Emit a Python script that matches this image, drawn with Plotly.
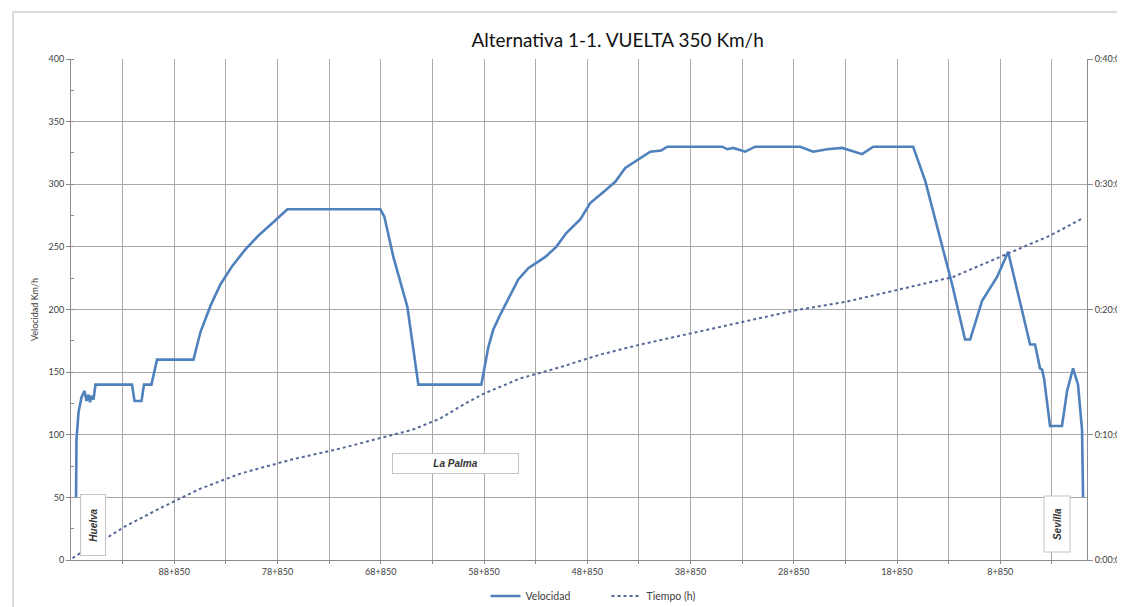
import plotly.graph_objects as go

# Punto kilométrico (km) y velocidad (km/h) del tren, Huelva -> Sevilla
pk_velocidad = [98.36, 98.32, 98.12, 97.83, 97.54, 97.35, 97.15, 97.01, 96.86, 96.67,
                96.48, 92.94, 92.70, 92.02, 91.78, 91.06, 90.52, 86.99, 86.31, 85.34,
                84.38, 83.21, 81.96, 80.70, 79.34, 77.89, 68.89, 68.50, 67.63, 66.27,
                65.21, 59.11, 58.43, 57.95, 57.27, 56.30, 55.53, 54.56, 52.91, 51.85,
                50.88, 49.53, 48.56, 47.11, 46.14, 45.17, 43.72, 42.75, 41.69, 41.10,
                35.78, 35.30, 34.71, 33.55, 32.59, 28.23, 26.97, 25.62, 24.16, 22.23,
                21.16, 17.29, 16.13, 14.87, 13.51, 12.26, 11.77, 10.61, 9.16, 8.09,
                5.96, 5.48, 5.00, 4.80, 4.61, 4.03, 2.87, 2.38, 1.80, 1.32,
                0.93, 0.83]
velocidad = [50, 96, 118, 130, 135, 127, 132, 126, 131, 128,
             140, 140, 127, 127, 140, 140, 160, 160, 182, 203,
             220, 235, 248, 259, 269, 280, 280, 274, 242, 202,
             140, 140, 170, 184, 196, 212, 224, 233, 242, 250,
             261, 272, 285, 295, 302, 313, 321, 326, 327, 330,
             330, 328, 329, 326, 330, 330, 326, 328, 329, 324,
             330, 330, 303, 263, 220, 176, 176, 207, 226, 246,
             172, 172, 153, 152, 145, 107, 107, 135, 153, 140,
             104, 50]

# Tiempo acumulado (minutos)
pk_tiempo = [98.70, 96.96, 95.32, 93.57, 90.18, 86.31, 82.44, 77.60, 72.76, 68.89,
             65.79, 63.08, 60.66, 58.82, 55.33, 51.46, 47.59, 43.72, 38.88, 33.84,
             28.91, 23.87, 18.55, 13.42, 8.87, 4.03, 0.83]
tiempo_min = [0.15, 1.1, 1.8, 2.7, 4.15, 5.7, 6.9, 8.0, 8.9, 9.7,
              10.4, 11.3, 12.5, 13.3, 14.5, 15.4, 16.4, 17.2, 18.1, 19.0,
              19.9, 20.6, 21.6, 22.6, 24.2, 25.9, 27.3]

# Ejes
grid_pk = [93.85, 88.85, 83.85, 78.85, 73.85, 68.85, 63.85, 58.85, 53.85, 48.85,
           43.85, 38.85, 33.85, 28.85, 23.85, 18.85, 13.85, 8.85, 3.85]
etiquetas_pk = ["", "88+850", "", "78+850", "", "68+850", "", "58+850", "", "48+850",
                "", "38+850", "", "28+850", "", "18+850", "", "8+850", ""]
ticks_tiempo = [0, 10, 20, 30, 40]
etiquetas_tiempo = ["0:00:00", "0:10:00", "0:20:00", "0:30:00", "0:40:00"]

FUENTE = "Lato, 'Open Sans', Arial, sans-serif"
GRIS_TXT = "#404040"
GRIS_GRID = "#a9a9a9"

fig = go.Figure()
fig.add_trace(go.Scatter(
    x=pk_velocidad, y=velocidad, mode="lines", name="Velocidad",
    line=dict(color="#4f81bd", width=2.6),
))
fig.add_trace(go.Scatter(
    x=pk_tiempo, y=tiempo_min, mode="lines", name="Tiempo (h)", yaxis="y2",
    line=dict(color="#56679a", width=2, dash="dot"),
))

# la página deja 8 px de margen, así que la figura se desplaza
fig.update_layout(
    template="none",
    width=1117, height=630,
    margin=dict(l=63, r=38, t=51, b=78),
    paper_bgcolor="white", plot_bgcolor="white",
    font=dict(family=FUENTE, size=9, color=GRIS_TXT),
    title=dict(text="Alternativa 1-1. VUELTA 350 Km/h", xref="paper", x=0.538, xanchor="center",
               yref="container", y=0.949, yanchor="middle",
               font=dict(family=FUENTE, size=19, color="#111111")),
    xaxis=dict(range=[98.85, 0.45], tickvals=grid_pk, ticktext=etiquetas_pk,
               showgrid=True, gridcolor=GRIS_GRID, gridwidth=1,
               showline=True, linecolor="#8c8c8c", linewidth=1,
               ticks="outside", ticklen=3, tickcolor="#8c8c8c",
               tickfont=dict(size=9, color=GRIS_TXT), zeroline=False, automargin=False),
    yaxis=dict(range=[0, 400], dtick=50, showgrid=True, gridcolor=GRIS_GRID, gridwidth=1,
               showline=True, linecolor="#8c8c8c", linewidth=1,
               ticks="outside", ticklen=4, tickcolor="#8c8c8c",
               minor=dict(dtick=25, ticks="inside", ticklen=3, tickcolor="#8c8c8c", showgrid=False),
               tickfont=dict(size=9, color=GRIS_TXT), zeroline=False, automargin=False,
               title=dict(text="Velocidad Km/h", font=dict(size=9, color=GRIS_TXT), standoff=8)),
    yaxis2=dict(range=[0, 40], overlaying="y", side="right", tickvals=ticks_tiempo,
                ticktext=etiquetas_tiempo, showgrid=False, showline=True,
                linecolor="#8c8c8c", linewidth=1, ticks="outside", ticklen=5,
                tickcolor="#8c8c8c", tickfont=dict(size=9, color=GRIS_TXT),
                zeroline=False, automargin=False),
    legend=dict(orientation="h", x=0.408, xanchor="left", y=-0.072, yanchor="middle",
                font=dict(size=10.5, color=GRIS_TXT), bgcolor="rgba(0,0,0,0)",
                itemwidth=30, entrywidth=76),
    showlegend=True,
)

# Marco del área del gráfico
fig.add_shape(type="rect", xref="paper", yref="paper",
              x0=-0.057, x1=1.05, y0=-0.2, y1=1.094,
              line=dict(color="#d0d0d0", width=1.5), fillcolor="rgba(0,0,0,0)", layer="below")

# Rótulos de estaciones
rotulos = [
    dict(text="<b><i>Huelva</i></b>", x=0.0217, y=0.0699, textangle=-90, width=60, height=24),
    dict(text="<b><i>Sevilla</i></b>", x=0.971, y=0.0719, textangle=-90, width=55, height=25),
    dict(text="<b><i>La Palma</i></b>", x=0.3784, y=0.1926, textangle=0, width=125, height=19),
]
for r in rotulos:
    fig.add_annotation(xref="paper", yref="paper", showarrow=False,
                       xanchor="center", yanchor="middle",
                       bgcolor="white", bordercolor="#c4c4c4", borderwidth=1, borderpad=0,
                       font=dict(family="Arial, sans-serif", size=10, color="#333333"), **r)

fig.write_html("out.html")
